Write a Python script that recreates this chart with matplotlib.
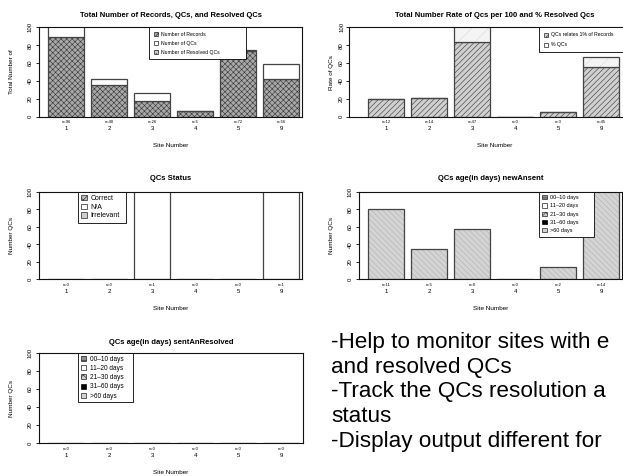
import matplotlib
matplotlib.use('Agg')
import matplotlib.pyplot as plt
from matplotlib.patches import Patch

plt.rcParams['font.family'] = ['Liberation Sans', 'DejaVu Sans']
plt.rcParams['hatch.linewidth'] = 0.4

W, H = 623, 476

sites = ['1', '2', '3', '4', '5', '9']

# panel 1: records / QCs / resolved QCs
rec_resolved = [89, 36, 18, 6, 74, 42]
rec_qcs = [104, 42, 27, 6, 75, 59]
rec_n = ['n=96', 'n=40', 'n=26', 'n=5', 'n=72', 'n=56']

# panel 2: rate of QCs per 100 and % resolved
rate_resolved = [20, 21, 83, 0, 5, 56]
rate_qcs = [20, 21, 104, 0, 5, 67]
rate_n = ['n=12', 'n=14', 'n=47', 'n=0', 'n=3', 'n=45']

# panel 3: QCs status
status_vals = [0, 0, 104, 0, 0, 104]
status_n = ['n=0', 'n=0', 'n=1', 'n=0', 'n=0', 'n=1']

# panel 4: age of new unsent QCs
new_vals = [80, 35, 57, 0, 14, 104]
new_n = ['n=11', 'n=5', 'n=8', 'n=0', 'n=2', 'n=14']

# panel 5: age of sent unresolved QCs
sent_vals = [0, 0, 0, 0, 0, 0]
sent_n = ['n=0', 'n=0', 'n=0', 'n=0', 'n=0', 'n=0']

age_labels = ['00\u201310 days', '11\u201320 days', '21\u201330 days', '31\u201360 days', '>60 days']

notes = ['-Help to monitor sites with e',
         'and resolved QCs',
         '-Track the QCs resolution a',
         'status',
         '-Display output different for']
note_baselines = [348, 373, 397, 422, 447]

PX = 0.72  # points per pixel at dpi 100
UNIT = 43 / 1.2
centers = [0.7 + 1.2 * i for i in range(6)]

fig = plt.figure(figsize=(W / 100, H / 100), dpi=100)


def make_ax(x0, x1, y0, y1, c1, title, ylabel, title_off=12, ylab_off=28, tick_pad=2):
    ax = fig.add_axes([x0 / W, 1 - y1 / H, (x1 - x0) / W, (y1 - y0) / H])
    ax.pxbox = (x0, x1, y0, y1)
    ax.set_xlim(0.7 - (c1 - x0) / UNIT, 0.7 + (x1 - c1) / UNIT)
    ax.set_ylim(0, 100)
    for s in ax.spines.values():
        s.set_linewidth(0.8)
        s.set_color('#111111')
    ax.set_yticks([0, 20, 40, 60, 80, 100])
    ax.set_yticklabels(['0', '20', '40', '60', '80', '100'], rotation=90,
                       va='center', fontsize=4.3)
    ax.tick_params(axis='y', length=2.5, width=0.6, pad=tick_pad)
    ax.set_xticks(centers)
    ax.set_xticklabels(sites, fontsize=4.3)
    ax.tick_params(axis='x', length=0, pad=7)
    ax.annotate(title, xy=(0.5, 1), xycoords='axes fraction',
                xytext=(0, title_off * PX), textcoords='offset points',
                ha='center', va='center', fontsize=5.5, fontweight='bold')
    ax.annotate(ylabel, xy=(0, 0.5), xycoords='axes fraction',
                xytext=(-ylab_off * PX, 0), textcoords='offset points',
                ha='center', va='center', rotation=90, fontsize=4.6)
    ax.annotate('Site Number', xy=(0.5, 0), xycoords='axes fraction',
                xytext=(0, -29 * PX), textcoords='offset points',
                ha='center', va='center', fontsize=4.6)
    return ax


def n_labels(ax, labels):
    for c, t in zip(centers, labels):
        ax.annotate(t, xy=(c, 0), xycoords=('data', 'axes fraction'),
                    xytext=(0, -5.5 * PX), textcoords='offset points',
                    ha='center', va='center', fontsize=3.0)


def hbar(ax, vals, bottom, fc, hc, hatch):
    ax.bar(centers, vals, 1, bottom=bottom, color=fc, edgecolor=hc,
           hatch=hatch, linewidth=0)
    ax.bar(centers, vals, 1, bottom=bottom, fill=False,
           edgecolor='#444444', linewidth=0.9)


def legend(ax, handles, labels, lx0, lx1, ly0, fs, spacing, pad=0.5, tpad=0.6):
    x0, x1, y0, y1 = ax.pxbox
    fx = (lx0 - x0) / (x1 - x0)
    fw = (lx1 - lx0) / (x1 - x0)
    fy = 1 - (ly0 - y0) / (y1 - y0)
    leg = ax.legend(handles, labels, loc='upper left',
                    bbox_to_anchor=(fx, fy - 0.01, fw, 0.01), mode='expand',
                    borderaxespad=0, fontsize=fs, fancybox=False,
                    edgecolor='black', framealpha=1, handlelength=0.8,
                    handleheight=0.8, handletextpad=tpad, labelspacing=spacing,
                    borderpad=pad)
    leg.get_frame().set_linewidth(0.6)


# ---- panel 1
ax1 = make_ax(39, 302, 27.3, 116.7, 66,
              'Total Number of Records, QCs, and Resolved QCs', 'Total Number of')
qc_top = [q - r for q, r in zip(rec_qcs, rec_resolved)]
hbar(ax1, rec_resolved, 0, '#a8a8a8', '#333333', 'xxxxxx')
hbar(ax1, qc_top, rec_resolved, 'white', '#444444', None)
n_labels(ax1, rec_n)
legend(ax1,
       [Patch(fc='#a8a8a8', ec='#222222', hatch='xxxx', lw=0.5),
        Patch(fc='white', ec='#222222', lw=0.5),
        Patch(fc='#c8c8c8', ec='#222222', hatch='....', lw=0.5)],
       ['Number of Records', 'Number of QCs', 'Number of Resolved QCs'],
       149, 246, 27.3, 3.7, 0.75, pad=0.9)

# ---- panel 2
ax2 = make_ax(349, 640, 27.3, 116.7, 386,
              'Total Number Rate of Qcs per 100 and % Resolved Qcs', 'Rate of QCs',
              ylab_off=18, tick_pad=1)
rate_top = [q - r for q, r in zip(rate_qcs, rate_resolved)]
hbar(ax2, rate_resolved, 0, '#d0d0d0', '#333333', '//////')
hbar(ax2, rate_top, rate_resolved, '#f4f4f4', '#d8d8d8', '//')
n_labels(ax2, rate_n)
legend(ax2,
       [Patch(fc='#d0d0d0', ec='#222222', hatch='////', lw=0.5),
        Patch(fc='white', ec='#222222', lw=0.5)],
       ['QCs relates 1% of Records', '% QCs'],
       539, 660, 27.3, 3.7, 0.95, pad=1.0)

# ---- panel 3
ax3 = make_ax(39, 302, 191.7, 279.3, 66, 'QCs Status', 'Number QCs', title_off=13.5)
hbar(ax3, status_vals, 0, 'white', '#444444', None)
n_labels(ax3, status_n)
legend(ax3,
       [Patch(fc='#bbbbbb', ec='#222222', hatch='xxxx', lw=0.5),
        Patch(fc='white', ec='#222222', lw=0.5),
        Patch(fc='#cccccc', ec='#222222', lw=0.5)],
       ['Correct', 'N/A', 'Irrelevant'],
       78, 126, 191.7, 5.0, 0.22, pad=0.5, tpad=0.5)

# ---- panel 4
ax4 = make_ax(359, 622, 191.7, 279.3, 386,
              'QCs age(in days) newAnsent', 'Number QCs', title_off=13.5)
hbar(ax4, new_vals, 0, '#d4d4d4', '#b0b0b0', '\\\\\\\\\\\\')
n_labels(ax4, new_n)
age_handles = [Patch(fc='#909090', ec='#222222', hatch='----', lw=0.5),
               Patch(fc='white', ec='#222222', lw=0.5),
               Patch(fc='#cccccc', ec='#222222', hatch='xxxx', lw=0.5),
               Patch(fc='black', ec='black', lw=0.5),
               Patch(fc='#d4d4d4', ec='#222222', lw=0.5)]
legend(ax4, age_handles, age_labels, 539, 594, 191.7, 4.0, 0.58, pad=0.6)

# ---- panel 5
ax5 = make_ax(39, 303, 353, 443, 66,
              'QCs age(in days) sentAnResolved', 'Number QCs', title_off=10.5)
hbar(ax5, sent_vals, 0, 'white', '#444444', None)
n_labels(ax5, sent_n)
legend(ax5, age_handles, age_labels, 78, 133, 353, 4.7, 0.33, pad=0.45)

# ---- notes text
for line, yb in zip(notes, note_baselines):
    fig.text(331 / W, 1 - yb / H, line, fontsize=16.2,
             ha='left', va='baseline')

fig.savefig('out.png', dpi=100)
